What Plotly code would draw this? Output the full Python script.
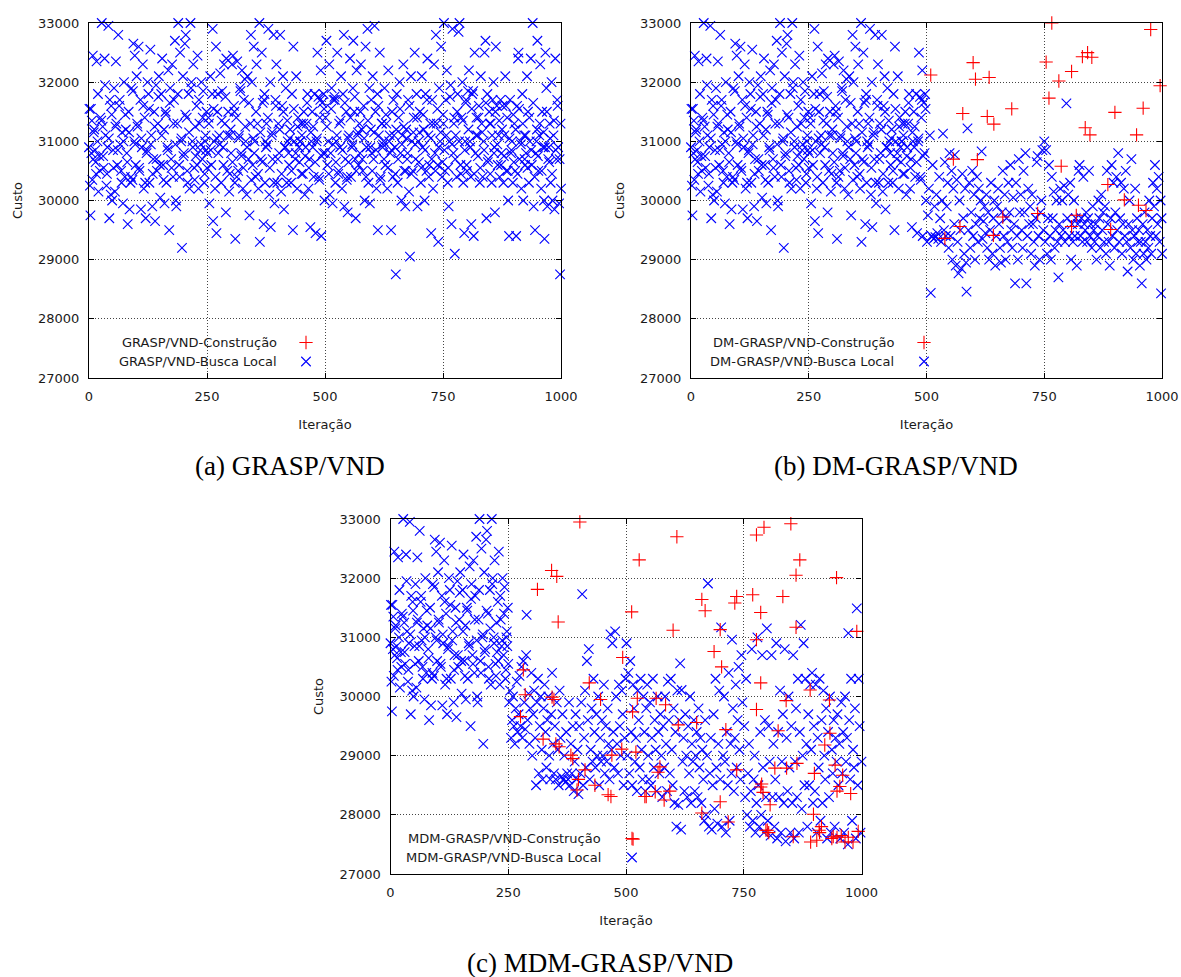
import plotly.graph_objects as go

W, H = 1181, 977

# ---------------- data (iteration, cost) ----------------
# Local-search costs for iterations 0-500 (identical in the three runs up to the switch point)
shared_first_half = [
    (1,31550),(2,30250),(3,29750),(5,30800),(6,31350),(8,32450),(9,30700),(11,31200),(13,30850),(15,30450),(16,32350),(18,31000),(20,30150),(22,30750),(24,31400),
    (27,33000),(29,31250),(31,30550),(33,32400),(35,31100),(37,30250),(39,30900),(41,32950),(43,29700),(44,31700),(46,30100),(48,31450),(49,30000),
    (51,30850),(53,31900),(55,30150),(57,32350),(58,31300),(60,30600),(62,32800),(64,31600),(66,30950),(68,30500),(70,31150),(72,29950),(74,32000),
    (76,30400),(78,31200),(80,30800),(82,29600),(84,31500),(86,29850),(88,30300),(90,31900),(92,30350),(94,32650),(96,31000),(97,32450),(99,30600),
    (101,32100),(103,31250),(105,32600),(107,30500),(109,31700),(110,29850),(112,30900),(114,32300),(116,30200),(118,31400),(120,29700),(122,30800),(124,32000),
    (126,31800),(128,30300),(130,32550),(132,31100),(134,29900),(136,30700),(138,31500),(140,29650),(142,31950),(144,30500),(146,31300),(148,32100),
    (151,30050),(153,31800),(155,32400),(157,30600),(159,31200),(160,29950),(162,31500),(164,30300),(166,30900),(168,32200),(170,29500),(172,31900),(174,30700),
    (176,32300),(178,30400),(180,31700),(182,32700),(184,30000),(185,29900),(187,31300),(189,33000),(191,30600),(193,32500),(195,31000),(197,29200),(199,32100),
    (201,30800),(203,32650),(205,32800),(207,31400),(209,30300),(211,31800),(213,30200),(215,33000),(217,32000),(219,31000),(221,32300),(223,30550),
    (226,30750),(228,31600),(230,32450),(232,30200),(234,31300),(236,30850),(238,32000),(240,30700),(242,31850),(244,30300),(246,31000),(248,30850),(249,31500),
    (251,30800),(253,31400),(255,29950),(257,32100),(259,30600),(261,31800),(262,32900),(263,29650),(265,31000),(267,30200),(269,32600),(270,29450),(272,31500),(274,30800),
    (276,31100),(278,32150),(280,30300),(282,31850),(284,30900),(286,32300),(288,31300),(290,29800),(291,32400),(293,30500),(295,31500),(297,30150),(299,31100),
    (301,30800),(303,32300),(305,32450),(307,31600),(309,30300),(310,29350),(312,31400),(314,32350),(316,30500),(318,31100),(320,31900),(322,30800),(324,32200),
    (326,30200),(328,31700),(330,32050),(332,31000),(334,30100),(336,32100),(338,30700),(340,29750),(342,31300),(343,32800),(345,32000),(347,30600),(349,32600),
    (351,31000),(353,30400),(355,32300),(357,31300),(359,30200),(361,33000),(362,29300),(364,30700),(366,32500),(368,31650),(370,29600),(371,31700),(373,30300),(374,31000),
    (376,31300),(378,30950),(380,32900),(382,30100),(384,32000),(385,29550),(387,31100),(389,30700),(391,32800),(393,29950),(395,31700),(397,32300),(399,30300),
    (401,31300),(403,30800),(405,32800),(407,30150),(409,31600),(411,32100),(413,29850),(415,30900),(417,31900),(419,30300),(421,31000),(423,30800),
    (426,31200),(428,30300),(430,31800),(432,29500),(433,32600),(435,31000),(437,30700),(439,32100),(441,30200),(443,31400),(445,30900),(447,31000),(449,31300),
    (451,31100),(453,30450),(455,31500),(457,30100),(459,30900),(461,31300),(463,31800),(465,30200),(467,30700),(469,29550),(471,31000),(473,31500),
    (476,30400),(478,31800),(480,29450),(482,31000),(484,32500),(486,31750),(488,30350),(490,31700),(491,32200),(492,29400),(494,31650),(496,30800),(497,31800),(499,30000),
]
shared_first_half_core = [
    (0,30900),(4,31550),(7,30350),(10,31150),(14,30650),(19,31800),(23,30500),
    (26,31350),(30,30750),(34,31950),(38,30450),(42,31050),(47,31600),
    (52,30550),(56,31250),(61,30850),(65,31700),(69,30300),(73,31000),
    (77,31450),(81,30650),(85,31150),(89,30400),(93,31850),(98,30950),
    (102,31300),(106,30550),(111,31050),(115,31600),(119,30300),(123,30850),
    (127,31550),(131,30950),(135,30450),(139,31250),(143,30700),(147,31750),
    (150,30600),(154,31100),(158,30350),(163,31450),(167,30850),(171,31650),
    (175,30550),(179,31300),(183,30950),(188,31800),(192,30400),(196,31050),
    (200,30750),(204,31450),(208,30500),(212,31150),(216,31900),(220,30900),(224,30350),
    (225,31250),(229,30600),(233,31700),(237,30950),(241,31400),(245,30450),(247,31100),
    (250,30550),(254,31300),(258,30850),(264,31550),(268,30400),(271,31050),(273,31800),
    (277,30950),(281,31350),(285,30600),(289,31750),(294,31100),(298,30450),
    (300,31200),(304,30650),(308,31500),(313,30400),(317,31050),(321,31850),(323,30750),
    (327,30550),(331,31250),(335,30900),(339,31650),(344,30350),(348,31050),
    (350,30800),(354,31500),(358,30450),(363,31150),(367,30650),(372,31800),
    (375,30900),(379,31400),(383,30550),(388,31150),(392,30300),(396,31600),
    (400,30700),(404,31200),(408,30450),(412,31500),(416,30900),(420,31350),(424,30600),
    (425,31050),(429,30500),(434,31550),(438,30800),(442,31250),(446,30650),(448,31000),
    (450,30450),(454,31300),(458,30750),(462,31650),(466,30550),(470,31150),(474,30900),
    (475,31250),(479,30650),(483,31050),(487,30400),(489,31400),(493,30750),(498,31550),
]

# GRASP/VND local search, iterations 500-1000
grasp_blue_second = [
    (501,31400),(503,32700),(505,30600),(507,31000),(509,32300),(510,30100),(512,30800),(514,31900),(516,29950),(518,31700),(520,31750),(522,30300),(524,31000),
    (526,32500),(528,30450),(530,31300),(532,30900),(534,32100),(536,30200),(538,31800),(540,32800),(541,29900),(543,30700),(545,31500),(547,30400),(548,29800),
    (551,31100),(553,32400),(555,30400),(557,30900),(559,31900),(560,32700),(562,31500),(564,30700),(565,29700),(567,32200),(569,31100),(571,30600),(573,31300),
    (576,32300),(578,31200),(580,30500),(582,31600),(584,30000),(586,32600),(588,30900),(590,32900),(592,30300),(594,31900),(595,29950),(597,31200),(599,30800),
    (601,32100),(603,30700),(605,32950),(607,31500),(609,30200),(611,31800),(612,29500),(614,31100),(616,32500),(618,30400),(620,31300),(622,30900),(624,31000),
    (626,31900),(628,30600),(630,31300),(632,30200),(634,32200),(636,31000),(638,30800),(640,29500),(642,31500),(644,30400),(646,31100),(648,30900),(650,28750),
    (652,31800),(654,30300),(656,31400),(658,32000),(660,30800),(662,30000),(664,31100),(666,32300),(668,30500),(670,29900),(672,31200),(674,30700),
    (676,31700),(678,30150),(680,29050),(682,32100),(684,31000),(686,30500),(688,31400),(690,32500),(692,30700),(694,31800),(696,29900),(698,31000),
    (701,31500),(703,30300),(705,32100),(707,30900),(709,31200),(711,30000),(713,31800),(715,30500),(717,32400),(719,31100),(721,30600),(723,31300),(725,29450),
    (727,31700),(729,30200),(731,32300),(733,30800),(735,32800),(737,31300),(739,30600),(740,29300),(742,31900),(744,31000),(746,32600),(748,30400),
    (751,31300),(752,33000),(754,30500),(756,31700),(758,32200),(760,30300),(762,29900),(764,31000),(766,31950),(768,29600),(770,32900),(772,30800),(774,31400),
    (775,29100),(777,31100),(779,30400),(781,31800),(783,32850),(785,33000),(787,30600),(789,31400),(791,32000),(793,30300),(795,29450),(797,31000),(799,31700),
    (801,30500),(803,31850),(805,32200),(807,31000),(809,30400),(810,29600),(812,31800),(814,31850),(815,29400),(817,32500),(819,30800),(821,31400),(823,31100),
    (826,31600),(828,30300),(830,32100),(832,31300),(834,30400),(836,31000),(838,32500),(840,32700),(842,29700),(844,31800),(846,30700),(848,31500),
    (851,31300),(853,30300),(855,31700),(857,32000),(859,30900),(860,29800),(862,32600),(864,31600),(866,30600),(868,31100),(870,30400),(872,31700),(874,30800),
    (876,31600),(878,30300),(880,31100),(882,32100),(884,30500),(886,31400),(888,30000),(890,29400),(892,31700),(894,30800),(896,31000),(898,30300),
    (901,31300),(903,30500),(905,29400),(907,31600),(909,32400),(910,32500),(912,30700),(914,31000),(916,30200),(918,31800),(920,30000),(922,31100),(924,30600),
    (926,30800),(928,32100),(930,31500),(932,30300),(934,31000),(936,32400),(938,30600),(940,33000),(942,29900),(945,29500),(947,30800),(949,31200),(950,32700),
    (952,30500),(954,31100),(956,32300),(958,30200),(960,31500),(962,30900),(964,30000),(965,29350),(967,32500),(969,31900),(971,29900),(973,30700),(974,30900),
    (976,31300),(978,30300),(980,32000),(982,30000),(984,31100),(986,29850),(988,32400),(990,30700),(992,31700),(994,30900),(996,29950),(998,28750),(999,31300),(1000,30200),
]
grasp_blue_second_core = [
    (500,30800),(504,31250),(508,30450),(513,31550),(517,30950),(521,31700),(523,30650),
    (525,31100),(529,30500),(533,31350),(537,30850),(542,31650),(546,30350),(549,31050),
    (550,30650),(554,31400),(558,30950),(563,31750),(566,30500),(570,31150),(574,30800),
    (575,31500),(579,30700),(583,31050),(587,30400),(591,31350),(596,30900),(598,31700),
    (600,30500),(604,31150),(608,30850),(613,31600),(617,30350),(621,31300),(623,30950),
    (625,30700),(629,31450),(633,30550),(637,31100),(641,30850),(645,31700),(649,30450),
    (651,31200),(655,30700),(659,31550),(663,30950),(667,31250),(671,30500),(673,31050),
    (675,30800),(679,31600),(683,30450),(687,31150),(691,30950),(695,31400),(699,30650),
    (700,31150),(704,30550),(708,31450),(712,30850),(716,31700),(720,30400),(724,31050),
    (726,30700),(730,31300),(734,30500),(738,31550),(741,30900),(745,31150),(749,30650),
    (750,31450),(753,30850),(757,31100),(761,30550),(765,31750),(769,30950),(773,31300),
    (776,30700),(780,31500),(784,31000),(788,30450),(792,31350),(796,30850),(798,31650),
    (800,30600),(804,31200),(808,30900),(811,31550),(816,30450),(820,31100),(824,30750),
    (825,31400),(829,30550),(833,31150),(837,30850),(841,31650),(845,30650),(849,31300),
    (850,30450),(854,31100),(858,30800),(861,31500),(865,30950),(869,31350),(873,30600),
    (875,31200),(879,30750),(883,31600),(887,30500),(891,31050),(895,30850),(899,31450),
    (900,30650),(904,31200),(908,30450),(911,31550),(915,30950),(919,31300),(923,30700),
    (925,31100),(929,30550),(933,31400),(937,30850),(941,31650),(944,30400),(948,31000),
    (951,30750),(955,31300),(959,30500),(963,31150),(966,30900),(970,31500),(975,30650),
    (977,31050),(981,30450),(985,31350),(989,30850),(993,31600),(997,30700),
]
grasp_red = []  # no construction cost falls inside the visible range

# DM-GRASP/VND, iterations 500-1000
dm_blue_second = [
    (501,29300),(503,29750),(505,30200),(507,31100),(509,28440),(511,29400),(513,30600),(515,29350),(517,29900),(519,29380),(521,30100),(523,29450),(525,29350),(527,30400),(529,29700),(531,29300),(533,30000),(535,31130),(537,29500),(539,30650),(541,29400),(543,29900),(545,30300),(547,29200),(549,30800),
    (551,29400),(553,30500),(555,29000),(557,30200),(559,29600),(560,30770),(562,28900),(564,30350),(566,29300),(568,28770),(570,30000),(572,29500),(574,28850),(576,30450),(578,29700),(580,29100),(582,30200),(584,28950),(585,28460),(587,31220),(589,29500),(591,30300),(593,29200),(595,29800),(597,30500),(599,29400),
    (601,30100),(603,29000),(605,29600),(607,30400),(609,29300),(611,30200),(613,29700),(615,30000),(617,30830),(619,29350),(621,29650),(623,29900),(625,29450),(627,30100),(629,29200),(631,29800),(633,29000),(635,29500),(637,30300),(640,29100),(642,29700),(644,30000),(646,28900),(648,29400),
    (650,29900),(652,30200),(654,29600),(656,29200),(658,28950),(660,29800),(662,30500),(664,29400),(666,30100),(668,29000),(670,29700),(672,29300),(674,30300),(676,29800),(678,30600),(680,29500),(682,29200),(684,30050),(686,29600),(688,28600),(690,30300),(692,29400),(694,29000),(696,30700),(698,29800),
    (700,30100),(702,29500),(704,29200),(706,30500),(708,29800),(710,30800),(712,28600),(714,29400),(716,30200),(718,29600),(720,29900),(722,29100),(724,30100),(726,29600),(728,29300),(730,28900),(732,29700),(734,30650),(736,30750),(738,29400),(740,29000),(742,29800),(744,30000),(746,30850),(748,29500),
    (750,31000),(752,29300),(754,30850),(756,29100),(758,29700),(760,30600),(762,29400),(764,29000),(766,30400),(768,29700),(770,30150),(772,29200),(774,29500),(776,30000),(778,29300),(780,28700),(782,29600),(784,30200),(786,29400),(788,30000),(790,29500),(792,30250),(794,29300),(797,31640),(799,29700),
    (801,30100),(803,29400),(805,30300),(807,29000),(809,29600),(811,29300),(813,30000),(815,29400),(817,29700),(819,28900),(821,29600),(823,30500),(825,30600),(827,29400),(829,29700),(831,29300),(833,30400),(835,29600),(837,29500),(839,29800),(841,29300),(843,29700),(845,30500),(847,29400),(849,29600),
    (851,29200),(853,29900),(855,29500),(857,29300),(859,29600),(861,29000),(863,29400),(865,30000),(867,29700),(869,29200),(871,30100),(873,29500),(875,29800),(877,29300),(879,29900),(881,29100),(883,30500),(885,29600),(887,29300),(889,28900),(891,29700),(893,30600),(895,29400),(897,30300),(899,29200),
    (901,29800),(903,30400),(905,29500),(907,30800),(909,29300),(911,29700),(913,30300),(915,29100),(917,29600),(919,30200),(921,29400),(923,30500),(925,29300),(927,28800),(929,29600),(931,30000),(933,29200),(935,30700),(937,29500),(939,29000),(941,29400),(943,30200),(945,29100),(947,29700),(949,29300),
    (951,29500),(953,28900),(955,29300),(957,28600),(959,29600),(961,29100),(963,29800),(965,29300),(967,29000),(969,29500),(971,29200),(973,30000),(975,29400),(977,29100),(979,29700),(981,30300),(983,29900),(985,30600),(987,29400),(989,30200),(991,29600),(993,30400),(995,29300),(997,30000),(998,28430),(999,29700),(1000,29100),
]
dm_red = [
    (509,32120),(539,29360),(557,30700),(571,29560),(577,31470),(599,32330),(604,32050),(608,30690),(629,31420),(633,32080),(642,29410),(643,31290),(662,29720),(681,31550),
    (736,29780),(754,32340),(760,31730),(766,33000),(781,32020),(786,30580),(808,32180),(808,29560),(818,29750),(831,32430),(837,31230),(842,32500),(847,31110),(851,32420),
    (885,30270),(891,29510),(900,31490),(920,30010),(946,31110),(950,29920),(960,31560),(966,29830),(976,32890),(996,31940),
]

# MDM-GRASP/VND, iterations 250-1000
mdm_blue_rest = [
    (252,29900),(254,30100),(256,29300),(258,29600),(260,30000),(262,29500),(264,29200),(266,29800),(268,30250),(270,29400),(272,29700),(274,30350),(276,29500),(278,30500),(280,29300),(282,30600),(284,29900),(286,29450),(288,30700),(289,31380),(291,29600),(293,30050),(295,29200),(297,29800),(299,30400),
    (301,29000),(303,29700),(305,30100),(307,29300),(309,28500),(311,29900),(313,30300),(315,28700),(317,29500),(319,30000),(321,29100),(323,28600),(325,29800),(327,30200),(329,29400),(331,28800),(333,29600),(335,30000),(337,29000),(339,28600),(341,29700),(343,30400),(345,29200),(347,28700),(349,29500),
    (351,28600),(353,29900),(355,29100),(357,28500),(359,30100),(361,29300),(363,28650),(365,29700),(367,28600),(369,29000),(371,28550),(373,29400),(375,28700),(377,28600),(379,29900),(381,28500),(383,29200),(385,28700),(387,29500),(389,28400),(391,28900),(393,29700),(395,28600),(397,29100),(399,28350),
    (401,29500),(403,28700),(405,29900),(407,31730),(409,28500),(411,29300),(413,30100),(415,28800),(417,30600),(419,29600),(421,30800),(423,28600),(425,29100),(427,29800),(429,28900),(431,30300),(433,29400),(435,28800),(437,29700),(439,29000),(441,30000),(443,28500),(445,29300),(447,28900),(449,29600),
    (451,29000),(453,30200),(455,28700),(457,29500),(459,28900),(461,29800),(463,29200),(465,28600),(467,31050),(469,29100),(471,30900),(473,29400),(475,28800),(477,31100),(479,30000),(481,29200),(483,28700),(485,30200),(487,29500),(489,29000),(491,30100),(493,29700),(495,28500),(497,29300),(499,30300),
    (501,30900),(503,29000),(505,30400),(507,28700),(509,30600),(511,29400),(513,28500),(515,30200),(517,29800),(519,28900),(521,29300),(523,28400),(525,30100),(527,29600),(529,28800),(531,30300),(533,29100),(535,28600),(537,30000),(539,29400),(541,28400),(543,29800),(545,30200),(547,29000),(549,28600),
    (551,29900),(553,28500),(555,29300),(557,30300),(559,28800),(561,29600),(563,29100),(565,28400),(567,30000),(569,29400),(571,28700),(573,29700),(575,29000),(577,28300),(579,29500),(581,28800),(583,30000),(585,29200),(587,28400),(589,30250),(591,29600),(593,28700),(595,30300),(597,29100),(599,28500),
    (601,29800),(603,28200),(605,29400),(607,27800),(609,30100),(611,28170),(613,29600),(615,30560),(617,27750),(618,30110),(620,28900),(622,29300),(624,28400),(626,29700),(628,29000),(630,28300),(632,29500),(634,28700),(636,30000),(638,28200),(640,29200),(642,28900),(644,29600),(646,28400),(648,29000),
    (650,29400),(652,28300),(654,29800),(656,28800),(658,29300),(660,28200),(662,29100),(664,28600),(666,27900),(668,29600),(670,28000),(672,29000),(674,31910),(676,27800),(678,28700),(680,29300),(682,27750),(684,28500),(686,29700),(688,28100),(690,30300),(692,28800),(694,27850),(696,29200),(698,30100),
    (700,28600),(702,31170),(704,27800),(706,29000),(708,30000),(710,28900),(712,27700),(714,29400),(716,28500),(718,30400),(720,27900),(722,29200),(724,28700),(725,30960),(727,29800),(729,28400),(731,29300),(733,30200),(735,28800),(737,29600),(739,30500),(741,29100),(743,28600),(745,30700),(747,29900),
    (751,29500),(753,28300),(755,30300),(757,28000),(759,28700),(761,29200),(763,27800),(765,28400),(767,30800),(769,27900),(771,28600),(773,29000),(775,27700),(777,28200),(779,31000),(781,28500),(783,27800),(785,29400),(787,28000),(789,30700),(791,28800),(793,27700),(795,29600),(797,28300),(799,31150),
    (801,27900),(803,29500),(805,28900),(807,27650),(809,30700),(811,28300),(813,29200),(815,27800),(817,28600),(819,30900),(821,27600),(823,29400),(825,28300),(827,30100),(829,27700),(831,28900),(833,29700),(835,28200),(837,30800),(839,27550),(841,29300),(843,28400),(845,30000),(847,28800),(849,27700),
    (851,29500),(853,28200),(855,30700),(857,27600),(859,28900),(861,29800),(863,28300),(865,30300),(867,27700),(869,29400),(871,31210),(873,28100),(875,29000),(877,30900),(879,28500),(881,30300),(883,29200),(885,27800),(887,29700),(889,28500),(891,30200),(893,29100),(895,30400),(897,28200),(899,29500),
    (901,28400),(903,30200),(905,27700),(907,29300),(909,28800),(911,30300),(913,27900),(915,29600),(917,28200),(919,30100),(921,29000),(923,28600),(925,29800),(927,27600),(929,29400),(931,28300),(933,30000),(935,27700),(937,29100),(939,28700),(941,29600),(943,27800),(945,29300),(947,28900),(949,29700),
    (951,28500),(953,29200),(955,27600),(957,29900),(959,28700),(961,29400),(963,27700),(965,30000),(967,28900),(969,29300),(971,27500),(972,31070),(974,29600),(976,28600),(978,30300),(980,27900),(982,29100),(984,28800),(986,29800),(988,27600),(990,31490),(992,28500),(994,30300),(996,29500),(998,27700),(1000,28900),
]
mdm_red = [
    (276,29660),(282,30450),(286,30030),(312,31810),(324,29280),(342,32130),(343,29990),(347,29950),(351,29200),(353,32030),(356,31260),(358,29150),(383,29010),(387,28950),(396,28420),(399,28600),
    (402,32950),(413,28760),(422,30230),(434,28500),(446,29950),(462,28340),(468,28310),(470,29010),(491,29110),(493,30660),(512,31430),(514,29740),(515,27590),(521,29060),(524,29970),(528,32310),
    (540,28310),(543,28310),(562,28390),(564,29970),(568,28720),(572,28810),(581,28250),(584,29860),(593,28400),(600,31120),(608,32700),(611,29520),(650,29560),(661,31640),(661,28030),(668,31450),
    (687,30760),(700,31130),(700,28220),(703,30500),(712,29440),(717,27880),(731,31580),(735,31690),(735,28760),(769,31720),(777,32730),(777,30960),(777,29780),(786,31420),(786,30230),(786,28470),
    (788,28520),(791,28380),(793,32860),(797,27740),(800,27740),(803,27700),(806,28170),(816,28790),(823,29420),(833,31690),(840,29930),(841,28790),(850,32920),(855,27630),(861,32050),(861,31170),
    (863,28870),(869,32310),(891,30110),(892,27540),(898,28010),(900,28700),(905,27570),(910,27740),(911,27700),(915,27800),(922,29180),(932,29940),(933,29380),(937,27600),(940,27630),(944,28840),
    (947,32010),(948,27620),(948,28400),(954,28480),(957,27650),(960,28670),(965,27540),(972,27620),(977,28360),(982,27540),(990,31100),(993,27720),
]

x_ticks = [0, 250, 500, 750, 1000]
y_ticks = [27000, 28000, 29000, 30000, 31000, 32000, 33000]

panel_captions = ["(a) GRASP/VND", "(b) DM-GRASP/VND", "(c) MDM-GRASP/VND"]
legend_red = ["GRASP/VND-Construção", "DM-GRASP/VND-Construção", "MDM-GRASP/VND-Construção"]
legend_blue = ["GRASP/VND-Busca Local", "DM-GRASP/VND-Busca Local", "MDM-GRASP/VND-Busca Local"]

first_half_all = shared_first_half + shared_first_half_core
blue_series = [
    first_half_all + grasp_blue_second + grasp_blue_second_core,
    first_half_all + dm_blue_second,
    [p for p in first_half_all if p[0] <= 250] + mdm_blue_rest,
]
red_series = [grasp_red, dm_red, mdm_red]

# ---------------- layout geometry (pixels) ----------------
plot_boxes = [  # left, right, top, bottom
    (89, 561, 23, 378),
    (691, 1162, 23, 378),
    (390.5, 861.5, 519, 874),
]
legend_text_right = [279, 896, 603]
legend_sym_x = [306, 924, 632]
legend_row1_y = [342, 342, 838]
caption_pos = [(290, 466), (896, 466), (600, 963)]

BLUE = "#0000ff"
RED = "#ff0000"
FONT = "DejaVu Sans"
SERIF = "Liberation Serif"
TXT = "#1a1a1a"

fig = go.Figure()
layout = dict(
    width=W, height=H, margin=dict(l=0, r=0, t=0, b=0, autoexpand=False),
    paper_bgcolor="white", plot_bgcolor="white",
    showlegend=True, annotations=[],
)


def col(pts, k):
    return [p[k] for p in pts] if pts else [None]


for i in range(3):
    ax = "" if i == 0 else str(i + 1)
    leg = "legend" if i == 0 else f"legend{i + 1}"
    L, R, T, B = plot_boxes[i]
    blue = blue_series[i]
    red = red_series[i]
    fig.add_trace(go.Scatter(
        x=col(blue, 0), y=col(blue, 1), mode="markers",
        marker=dict(symbol="x-thin-open", size=9.5, color=BLUE, line=dict(color=BLUE, width=1.1)),
        xaxis="x" + ax, yaxis="y" + ax, name=" ", legend=leg, legendrank=2, cliponaxis=False,
        hoverinfo="skip",
    ))
    fig.add_trace(go.Scatter(
        x=col(red, 0), y=col(red, 1), mode="markers",
        marker=dict(symbol="cross-thin-open", size=9.5, color=RED, line=dict(color=RED, width=1.1)),
        xaxis="x" + ax, yaxis="y" + ax, name=" ", legend=leg, legendrank=1, cliponaxis=False,
        hoverinfo="skip",
    ))
    axis_common = dict(
        showline=True, linecolor="black", linewidth=1.2, mirror="ticks",
        ticks="inside", ticklen=5, tickcolor="black", tickwidth=1,
        showgrid=True, gridcolor="#444444", griddash="1px,2px", gridwidth=1,
        zeroline=False, tickfont=dict(family=FONT, size=13, color=TXT),
        fixedrange=True, automargin=False,
    )
    layout["xaxis" + ax] = dict(
        axis_common, domain=[L / W, R / W], range=[0, 1000], tickvals=x_ticks,
        anchor="y" + ax, ticklabelstandoff=6,
        title=dict(text="Iteração", font=dict(family=FONT, size=13, color=TXT), standoff=17),
    )
    layout["yaxis" + ax] = dict(
        axis_common, domain=[1 - B / H, 1 - T / H], range=[27000, 33000], tickvals=y_ticks,
        tickformat="d", anchor="x" + ax, ticklabelstandoff=6,
        title=dict(text="Custo", font=dict(family=FONT, size=13, color=TXT), standoff=12),
    )
    layout[leg] = dict(
        x=(legend_sym_x[i] - 20) / W, y=1 - (legend_row1_y[i] - 14) / H,
        xanchor="left", yanchor="top", bgcolor="rgba(0,0,0,0)",
        font=dict(family=FONT, size=11), tracegroupgap=0, itemwidth=30,
    )
    layout["annotations"].append(dict(
        text=legend_red[i], x=legend_text_right[i] / W, y=1 - legend_row1_y[i] / H,
        xref="paper", yref="paper", xanchor="right", yanchor="middle", showarrow=False,
        font=dict(family=FONT, size=13, color=TXT),
    ))
    layout["annotations"].append(dict(
        text=legend_blue[i], x=legend_text_right[i] / W, y=1 - (legend_row1_y[i] + 19) / H,
        xref="paper", yref="paper", xanchor="right", yanchor="middle", showarrow=False,
        font=dict(family=FONT, size=13, color=TXT),
    ))
    cx, cy = caption_pos[i]
    layout["annotations"].append(dict(
        text=panel_captions[i], x=cx / W, y=1 - cy / H, xref="paper", yref="paper",
        xanchor="center", yanchor="middle", showarrow=False,
        font=dict(family=SERIF, size=27, color="black"),
    ))

fig.update_layout(**layout)
fig.write_html(
    "out.html",
    config={"displayModeBar": False},
    post_script=(
        "document.documentElement.style.margin='0';document.body.style.margin='0';"
        "document.body.style.padding='0';document.documentElement.style.overflow='hidden';"
        "var g=document.getElementById('{plot_id}');g.style.position='absolute';"
        "g.style.left='0px';g.style.top='0px';"
    ),
)
